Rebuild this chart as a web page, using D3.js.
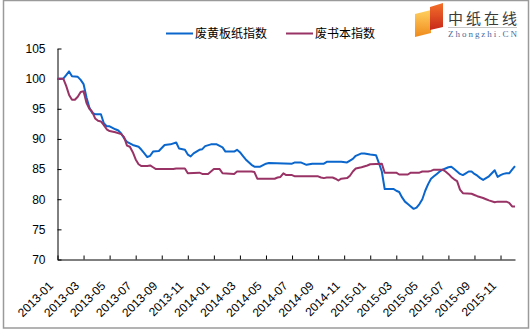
<!DOCTYPE html>
<html>
<head>
<meta charset="utf-8">
<script src="https://cdn.jsdelivr.net/npm/d3@7/dist/d3.min.js"></script>
<style>
  html, body { margin: 0; padding: 0; background: #fff; }
  svg { display: block; }
</style>
</head>
<body>
<svg id="chart" width="532" height="332"></svg>
<script>
// Weekly index series: week number since the first week of 2013
const seriesNames = ["废黄板纸指数", "废书本指数"];
const seriesColors = ["#0a66cc", "#993366"];

const boardWeeks = [0, 2, 3, 4, 5, 7, 8, 9, 10, 11, 12, 13, 15, 16, 17, 18, 20, 21, 22, 23, 24, 26, 28, 29, 30, 31, 32, 33, 35, 37, 39, 41, 42, 44, 45, 46, 47, 49, 50, 51, 53, 55, 57, 58, 61, 62, 63, 64, 65, 67, 68, 70, 72, 73, 81, 82, 84, 85, 86, 88, 92, 93, 98, 100, 102, 103, 105, 106, 108, 110, 111, 112, 113, 116, 117, 118, 119, 120, 121, 122, 123, 124, 125, 126, 127, 128, 129, 130, 131, 132, 133, 134, 135, 136, 137, 138, 139, 140, 141, 142, 143, 144, 145, 146, 147, 148, 149, 150, 151, 152, 153, 154, 155, 156, 157, 158];
const boardValues = [100.0, 100.0, 100.6, 101.2, 100.4, 100.3, 99.8, 99.1, 96.9, 95.2, 94.3, 94.1, 94.1, 92.6, 92.1, 92.1, 91.6, 91.4, 90.9, 90.1, 89.5, 89.0, 88.7, 88.2, 87.6, 87.0, 87.2, 87.9, 88.0, 89.0, 89.1, 89.4, 88.4, 88.2, 87.4, 87.1, 87.6, 88.2, 88.3, 88.8, 89.1, 89.1, 88.6, 87.9, 87.9, 88.2, 87.8, 87.2, 86.6, 85.7, 85.4, 85.4, 85.9, 86.0, 85.9, 86.1, 86.1, 85.9, 85.7, 85.9, 85.9, 86.2, 86.2, 86.1, 86.7, 87.2, 87.6, 87.6, 87.4, 87.3, 86.0, 84.6, 81.7, 81.7, 81.4, 81.2, 80.3, 79.6, 79.2, 78.8, 78.4, 78.6, 79.2, 80.0, 81.4, 82.5, 83.4, 83.8, 84.2, 84.6, 84.9, 85.1, 85.3, 85.4, 85.0, 84.6, 84.2, 84.0, 84.3, 84.6, 84.6, 84.2, 83.9, 83.5, 83.2, 83.5, 83.8, 84.3, 84.8, 83.7, 84.0, 84.2, 84.3, 84.3, 84.9, 85.5];

const bookWeeks = [0, 2, 3, 4, 5, 6, 7, 8, 9, 10, 11, 12, 13, 14, 15, 16, 17, 18, 20, 22, 23, 24, 25, 26, 27, 28, 29, 31, 32, 33, 34, 40, 41, 44, 45, 49, 50, 52, 53, 54, 56, 57, 61, 62, 67, 68, 69, 75, 76, 77, 78, 79, 81, 82, 90, 91, 92, 93, 95, 96, 97, 98, 100, 101, 102, 103, 105, 107, 108, 112, 113, 117, 118, 121, 122, 125, 126, 128, 129, 130, 133, 134, 135, 136, 137, 138, 139, 140, 143, 144, 145, 147, 148, 149, 151, 152, 155, 156, 157, 158];
const bookValues = [100.0, 100.0, 98.8, 97.3, 96.5, 96.5, 97.0, 97.8, 97.9, 96.0, 95.0, 94.5, 93.4, 93.0, 92.9, 92.3, 91.6, 91.3, 91.1, 90.8, 90.3, 88.9, 88.7, 87.8, 86.6, 85.8, 85.5, 85.5, 85.6, 85.3, 85.0, 85.0, 85.1, 85.1, 84.3, 84.4, 84.2, 84.2, 84.6, 85.0, 85.0, 84.3, 84.2, 84.6, 84.6, 84.5, 83.4, 83.4, 83.6, 83.7, 84.3, 84.0, 84.0, 83.8, 83.8, 83.6, 83.5, 83.6, 83.6, 83.4, 83.1, 83.4, 83.5, 83.9, 84.6, 85.1, 85.3, 85.6, 85.8, 85.9, 84.4, 84.4, 84.1, 84.1, 84.4, 84.4, 84.6, 84.6, 84.7, 84.9, 84.9, 84.6, 84.2, 83.7, 83.3, 83.0, 81.6, 81.0, 80.9, 80.7, 80.5, 80.2, 80.0, 79.8, 79.5, 79.6, 79.6, 79.4, 78.8, 78.8];

// Category labels, one every 9 weeks
const tickWeeks = [0, 9, 18, 27, 36, 45, 54, 63, 72, 81, 90, 99, 108, 117, 126, 135, 144, 153];
const tickLabels = ["2013-01", "2013-03", "2013-05", "2013-07", "2013-09", "2013-11",
                    "2014-01", "2014-03", "2014-05", "2014-07", "2014-09", "2014-11",
                    "2015-01", "2015-03", "2015-05", "2015-07", "2015-09", "2015-11"];
const yTicks = [70, 75, 80, 85, 90, 95, 100, 105];

const svg = d3.select("#chart");

// outer frame
svg.append("rect")
  .attr("x", 3.5).attr("y", 0.5)
  .attr("width", 525).attr("height", 327.5)
  .attr("fill", "#fff").attr("stroke", "#9a9a9a").attr("stroke-width", 1.5);

const x = d3.scaleLinear().domain([0, 158]).range([57.5, 515]);
const y = d3.scaleLinear().domain([70, 105]).range([259.5, 48.5]);

// y axis
const yAxis = svg.append("g")
  .attr("transform", `translate(${x(0)},0)`)
  .call(d3.axisLeft(y).tickValues(yTicks).tickSizeInner(-4).tickSizeOuter(0).tickPadding(12));
yAxis.select(".domain").attr("stroke", "#000");
yAxis.selectAll(".tick line").attr("stroke", "#000");
yAxis.selectAll("text")
  .attr("font-family", "'Liberation Sans', Arial, sans-serif")
  .attr("font-size", 12).attr("fill", "#000");

// x axis
const xAxis = svg.append("g")
  .attr("transform", `translate(0,${y(70)})`)
  .call(d3.axisBottom(x).tickValues(tickWeeks)
    .tickFormat((d, i) => tickLabels[i])
    .tickSizeInner(-4).tickSizeOuter(0));
xAxis.select(".domain").attr("stroke", "#000");
xAxis.selectAll(".tick line").attr("stroke", "#000");
xAxis.selectAll("text")
  .attr("font-family", "'Liberation Sans', Arial, sans-serif")
  .attr("font-size", 12).attr("fill", "#000")
  .attr("x", 0).attr("y", 0).attr("dy", 0)
  .attr("text-anchor", "end")
  .attr("transform", "translate(-4,27) rotate(-45)");

// series lines
const line = d3.line().x(d => x(d[0])).y(d => y(d[1]));
const series = [
  d3.zip(boardWeeks, boardValues),
  d3.zip(bookWeeks, bookValues)
];
series.forEach((pts, k) => {
  svg.append("path")
    .datum(pts)
    .attr("fill", "none")
    .attr("stroke", seriesColors[k])
    .attr("stroke-width", 2)
    .attr("stroke-linejoin", "round")
    .attr("d", line);
});

// legend
const legend = svg.append("g").attr("font-family", "'Noto Sans CJK SC', sans-serif").attr("font-size", 12);
const legendX = [166, 286];
seriesNames.forEach((name, k) => {
  legend.append("line")
    .attr("x1", legendX[k]).attr("x2", legendX[k] + 27)
    .attr("y1", 33.5).attr("y2", 33.5)
    .attr("stroke", seriesColors[k]).attr("stroke-width", 2);
  legend.append("text")
    .attr("x", legendX[k] + 29).attr("y", 38)
    .attr("fill", "#000")
    .text(name);
});

// site logo
const defs = svg.append("defs");
const g1 = defs.append("linearGradient").attr("id", "logoA").attr("x1", 0).attr("y1", 0).attr("x2", 0).attr("y2", 1);
g1.append("stop").attr("offset", 0).attr("stop-color", "#ffd060");
g1.append("stop").attr("offset", 1).attr("stop-color", "#f08a1c");
const g2 = defs.append("linearGradient").attr("id", "logoB").attr("x1", 0).attr("y1", 0).attr("x2", 0).attr("y2", 1);
g2.append("stop").attr("offset", 0).attr("stop-color", "#f4702a");
g2.append("stop").attr("offset", 1).attr("stop-color", "#c8281a");
const logo = svg.append("g");
logo.append("path").attr("d", "M415,14 L431,10 L431,33 L415,37 Z").attr("fill", "url(#logoA)");
logo.append("path").attr("d", "M430,7 L443,3 L443,27 L430,30 Z").attr("fill", "url(#logoB)");
logo.append("text")
  .attr("x", 448).attr("y", 24)
  .attr("font-family", "'Noto Sans CJK SC', sans-serif")
  .attr("font-size", 15).attr("fill", "#3a3a3a")
  .attr("textLength", 69).attr("lengthAdjust", "spacing")
  .text("中纸在线");
logo.append("line")
  .attr("x1", 448).attr("x2", 517).attr("y1", 27.5).attr("y2", 27.5)
  .attr("stroke", "#c8c8c8").attr("stroke-width", 1);
logo.append("text")
  .attr("x", 448).attr("y", 37)
  .attr("font-family", "'Liberation Serif', serif")
  .attr("font-size", 9).attr("fill", "#4a6a9a")
  .attr("textLength", 69).attr("lengthAdjust", "spacing")
  .text("Zhongzhi.CN");
</script>
</body>
</html>
